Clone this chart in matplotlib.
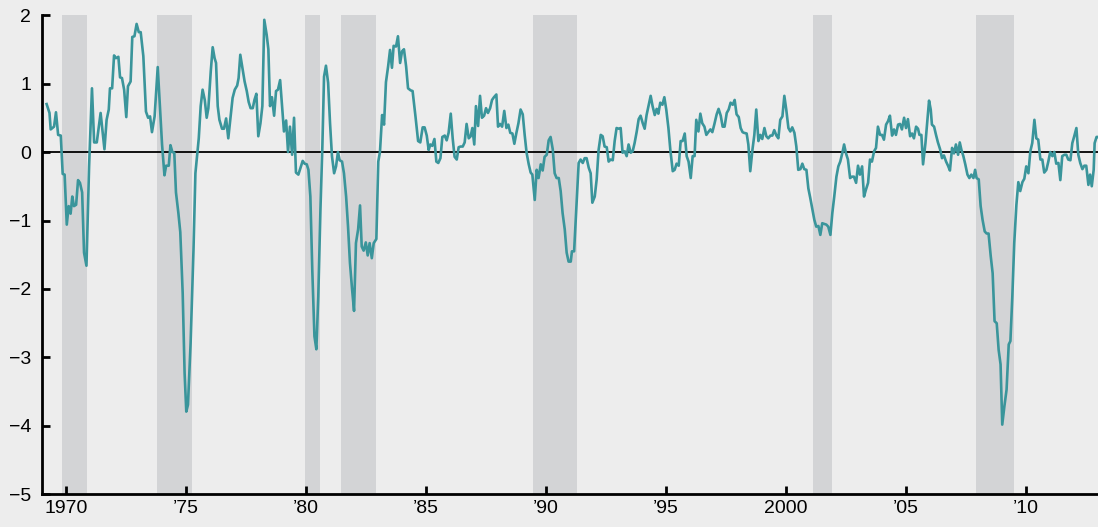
import matplotlib
matplotlib.use('Agg')
from matplotlib import pyplot as plt

# index values (decimal year, value)
years = [
    1969.19, 1969.31, 1969.36, 1969.50, 1969.58, 1969.67, 1969.78, 1969.86, 1969.94, 1970.03,
    1970.11, 1970.19, 1970.26, 1970.33, 1970.42, 1970.50, 1970.58, 1970.67, 1970.75, 1970.85,
    1970.96, 1971.08, 1971.17, 1971.28, 1971.44, 1971.60, 1971.69, 1971.78, 1971.83, 1971.92,
    1972.00, 1972.08, 1972.18, 1972.25, 1972.33, 1972.42, 1972.51, 1972.58, 1972.69, 1972.76,
    1972.85, 1972.94, 1973.03, 1973.11, 1973.22, 1973.33, 1973.42, 1973.50, 1973.58, 1973.69,
    1973.82, 1973.92, 1974.00, 1974.10, 1974.17, 1974.28, 1974.35, 1974.43, 1974.51, 1974.58,
    1974.68, 1974.76, 1974.86, 1974.94, 1975.01, 1975.08, 1975.19, 1975.31, 1975.39, 1975.53,
    1975.61, 1975.69, 1975.78, 1975.86, 1975.93, 1976.03, 1976.11, 1976.19, 1976.25,
    1976.32, 1976.39, 1976.50, 1976.58, 1976.67, 1976.76, 1976.86, 1976.94, 1977.03, 1977.13,
    1977.19, 1977.26, 1977.36, 1977.44, 1977.53, 1977.61, 1977.69, 1977.78, 1977.85, 1977.93,
    1978.01, 1978.10, 1978.18, 1978.26, 1978.36, 1978.43, 1978.50, 1978.58, 1978.67, 1978.75,
    1978.83, 1978.92, 1979.00, 1979.08, 1979.17, 1979.25, 1979.33, 1979.42, 1979.50, 1979.58,
    1979.68, 1979.78, 1979.86, 1979.94, 1980.03, 1980.10, 1980.18, 1980.26, 1980.35, 1980.43,
    1980.51, 1980.60, 1980.68, 1980.75, 1980.83, 1980.92, 1981.00, 1981.08, 1981.17, 1981.25,
    1981.33, 1981.40, 1981.50, 1981.58, 1981.67, 1981.75, 1981.83, 1981.92, 1982.00, 1982.08,
    1982.17, 1982.25, 1982.32, 1982.40, 1982.49, 1982.57, 1982.65, 1982.74, 1982.82, 1982.93,
    1983.01, 1983.08, 1983.17, 1983.25, 1983.33, 1983.42, 1983.50,
    1983.58, 1983.65, 1983.75, 1983.83, 1983.92, 1984.00, 1984.08, 1984.17, 1984.25, 1984.36,
    1984.44, 1984.56, 1984.67, 1984.76, 1984.86, 1984.94, 1985.03, 1985.11, 1985.18, 1985.26,
    1985.35, 1985.43, 1985.51, 1985.60, 1985.68, 1985.78, 1985.86, 1985.94, 1986.03, 1986.11,
    1986.19, 1986.28, 1986.36, 1986.44, 1986.53, 1986.61, 1986.69, 1986.78, 1986.86, 1986.93,
    1987.01, 1987.08, 1987.17, 1987.25, 1987.33, 1987.42, 1987.50, 1987.58, 1987.67, 1987.75,
    1987.83, 1987.93, 1988.00, 1988.08, 1988.17, 1988.26, 1988.35, 1988.43, 1988.51, 1988.60,
    1988.68, 1988.76, 1988.85, 1988.94, 1989.03, 1989.11, 1989.19, 1989.28, 1989.36, 1989.43,
    1989.53, 1989.61, 1989.69, 1989.78, 1989.86, 1989.94, 1990.03, 1990.11, 1990.19, 1990.28,
    1990.36, 1990.44, 1990.53, 1990.61, 1990.69, 1990.78, 1990.86, 1990.94, 1991.03,
    1991.08, 1991.17, 1991.26, 1991.36, 1991.44, 1991.53, 1991.61, 1991.69, 1991.78, 1991.86,
    1991.93, 1992.03, 1992.11, 1992.19, 1992.28, 1992.36, 1992.44, 1992.53, 1992.61, 1992.69,
    1992.78, 1992.86, 1992.94, 1993.03, 1993.11, 1993.19, 1993.28, 1993.36, 1993.44, 1993.53,
    1993.61, 1993.69, 1993.78, 1993.86, 1993.94, 1994.03, 1994.11, 1994.19, 1994.28, 1994.36,
    1994.44, 1994.53, 1994.61, 1994.68, 1994.76, 1994.85, 1994.93, 1995.01, 1995.10, 1995.18,
    1995.28, 1995.36, 1995.44, 1995.53, 1995.61, 1995.69, 1995.78, 1995.86, 1995.94, 1996.03,
    1996.11, 1996.19, 1996.26, 1996.35, 1996.43, 1996.51, 1996.60, 1996.68, 1996.76, 1996.85,
    1996.93, 1997.01, 1997.11, 1997.19, 1997.28, 1997.36, 1997.44, 1997.53, 1997.61, 1997.69,
    1997.78, 1997.86, 1997.94, 1998.03, 1998.11, 1998.19,
    1998.25, 1998.36, 1998.43, 1998.51, 1998.60, 1998.68, 1998.76, 1998.85, 1998.93, 1999.01,
    1999.10, 1999.18, 1999.26, 1999.35, 1999.43, 1999.51, 1999.60, 1999.68, 1999.76, 1999.85,
    1999.93, 2000.01, 2000.10, 2000.18, 2000.26, 2000.35, 2000.43, 2000.51, 2000.60, 2000.68,
    2000.76, 2000.85, 2000.93, 2001.01, 2001.10, 2001.18, 2001.26, 2001.35, 2001.43, 2001.51,
    2001.60, 2001.68, 2001.76, 2001.85, 2001.93, 2002.01, 2002.10, 2002.18, 2002.26, 2002.35,
    2002.42, 2002.50, 2002.58, 2002.67, 2002.75, 2002.83, 2002.92, 2003.00, 2003.08, 2003.17,
    2003.25, 2003.33, 2003.42, 2003.50, 2003.58, 2003.67, 2003.75, 2003.83, 2003.92, 2004.00,
    2004.08, 2004.17, 2004.25, 2004.33, 2004.42, 2004.50, 2004.58, 2004.67, 2004.75, 2004.83,
    2004.92, 2005.00, 2005.08, 2005.17, 2005.25, 2005.33, 2005.42,
    2005.50, 2005.56, 2005.64, 2005.71, 2005.81, 2005.88, 2005.96, 2006.03, 2006.08, 2006.17,
    2006.25, 2006.33, 2006.42, 2006.50, 2006.58, 2006.67, 2006.75, 2006.83, 2006.92, 2007.00,
    2007.08, 2007.17, 2007.24, 2007.31, 2007.39, 2007.47, 2007.56, 2007.64, 2007.72, 2007.81,
    2007.88, 2007.94, 2008.03, 2008.11, 2008.19, 2008.28, 2008.36, 2008.44, 2008.53, 2008.61,
    2008.69, 2008.78, 2008.86, 2008.94, 2009.01, 2009.10, 2009.19, 2009.28, 2009.35, 2009.43,
    2009.51, 2009.60, 2009.68, 2009.76, 2009.85, 2009.93, 2010.01, 2010.10, 2010.18, 2010.26,
    2010.35, 2010.43, 2010.51, 2010.60, 2010.68, 2010.76, 2010.85, 2010.93, 2011.01, 2011.10,
    2011.18, 2011.26, 2011.35, 2011.43, 2011.51, 2011.60, 2011.68, 2011.76, 2011.85, 2011.93,
    2012.01, 2012.10, 2012.18, 2012.26, 2012.35, 2012.43, 2012.51, 2012.60, 2012.67, 2012.74,
    2012.82, 2012.86, 2012.94, 2013.00,
]
cfnai = [
    0.70, 0.57, 0.33, 0.37, 0.58, 0.25, 0.24, -0.32, -0.33, -1.06,
    -0.79, -0.90, -0.65, -0.79, -0.77, -0.41, -0.45, -0.59, -1.47, -1.66,
    -0.21, 0.93, 0.14, 0.14, 0.57, 0.04, 0.47, 0.62, 0.93, 0.93,
    1.41, 1.37, 1.39, 1.09, 1.08, 0.91, 0.51, 0.96, 1.03, 1.68,
    1.69, 1.87, 1.75, 1.75, 1.40, 0.59, 0.50, 0.52, 0.29, 0.52,
    1.24, 0.62, 0.11, -0.34, -0.20, -0.20, 0.10, 0.00, -0.01, -0.59,
    -0.89, -1.17, -2.06, -3.23, -3.79, -3.69, -2.79, -1.43, -0.31, 0.20,
    0.67, 0.91, 0.76, 0.50, 0.64, 1.18, 1.53, 1.37, 1.30,
    0.67, 0.47, 0.34, 0.34, 0.49, 0.20, 0.52, 0.79, 0.91, 0.97,
    1.08, 1.42, 1.20, 1.03, 0.89, 0.73, 0.64, 0.64, 0.76, 0.85,
    0.23, 0.42, 0.67, 1.93, 1.71, 1.50, 0.67, 0.80, 0.53, 0.89,
    0.91, 1.05, 0.67, 0.30, 0.46, 0.00, 0.37, -0.04, 0.50, -0.30,
    -0.33, -0.22, -0.13, -0.17, -0.18, -0.26, -0.65, -1.72, -2.69, -2.88,
    -2.11, -0.84, 0.08, 1.10, 1.26, 1.01, 0.42, -0.06, -0.31, -0.21,
    0.00, -0.12, -0.14, -0.31, -0.65, -1.09, -1.62, -2.01, -2.32, -1.33,
    -1.13, -0.78, -1.38, -1.44, -1.32, -1.51, -1.33, -1.55, -1.33, -1.27,
    -0.14, 0.00, 0.54, 0.40, 1.02, 1.25, 1.49,
    1.23, 1.55, 1.54, 1.69, 1.30, 1.47, 1.50, 1.25, 0.93, 0.90,
    0.89, 0.52, 0.16, 0.14, 0.36, 0.36, 0.24, 0.03, 0.11, 0.09,
    0.19, -0.14, -0.16, -0.09, 0.22, 0.24, 0.17, 0.28, 0.56, 0.20,
    -0.07, -0.11, 0.07, 0.08, 0.08, 0.14, 0.41, 0.20, 0.23, 0.35,
    0.11, 0.67, 0.38, 0.82, 0.50, 0.53, 0.64, 0.57, 0.64, 0.76,
    0.80, 0.84, 0.37, 0.41, 0.37, 0.60, 0.35, 0.40, 0.28, 0.27,
    0.12, 0.27, 0.42, 0.62, 0.55, 0.25, -0.01, -0.18, -0.30, -0.33,
    -0.70, -0.26, -0.38, -0.18, -0.27, -0.07, -0.04, 0.17, 0.22, 0.04,
    -0.31, -0.38, -0.38, -0.57, -0.89, -1.13, -1.47, -1.60, -1.60,
    -1.45, -1.45, -0.84, -0.16, -0.11, -0.16, -0.09, -0.09, -0.23, -0.31,
    -0.74, -0.65, -0.40, 0.03, 0.25, 0.23, 0.08, 0.07, -0.14, -0.11,
    -0.12, 0.16, 0.35, 0.34, 0.35, -0.01, 0.01, -0.06, 0.11, -0.01,
    0.01, 0.13, 0.30, 0.48, 0.53, 0.42, 0.34, 0.54, 0.69, 0.82,
    0.67, 0.54, 0.63, 0.56, 0.72, 0.69, 0.80, 0.62, 0.35, 0.03,
    -0.28, -0.26, -0.17, -0.20, 0.16, 0.16, 0.27, -0.06, -0.14, -0.38,
    -0.06, -0.06, 0.47, 0.30, 0.56, 0.42, 0.37, 0.25, 0.29, 0.33,
    0.29, 0.40, 0.55, 0.63, 0.53, 0.37, 0.37, 0.57, 0.62, 0.72,
    0.69, 0.76, 0.55, 0.51, 0.35, 0.29,
    0.28, 0.27, 0.11, -0.28, 0.03, 0.25, 0.62, 0.16, 0.25, 0.19,
    0.35, 0.23, 0.20, 0.24, 0.24, 0.32, 0.24, 0.20, 0.47, 0.52,
    0.82, 0.62, 0.35, 0.30, 0.36, 0.28, 0.08, -0.26, -0.25, -0.17,
    -0.25, -0.26, -0.53, -0.67, -0.84, -0.99, -1.09, -1.08, -1.21, -1.04,
    -1.05, -1.06, -1.09, -1.21, -0.89, -0.65, -0.36, -0.21, -0.14, -0.01,
    0.11, -0.02, -0.11, -0.38, -0.36, -0.36, -0.45, -0.20, -0.33, -0.21,
    -0.65, -0.55, -0.45, -0.11, -0.14, 0.01, 0.06, 0.37, 0.25, 0.25,
    0.18, 0.40, 0.45, 0.53, 0.24, 0.33, 0.25, 0.40, 0.41, 0.33,
    0.50, 0.35, 0.48, 0.23, 0.27, 0.20, 0.37,
    0.34, 0.25, 0.25, -0.18, 0.13, 0.42, 0.75, 0.62, 0.40, 0.37,
    0.25, 0.14, 0.04, -0.09, -0.05, -0.14, -0.20, -0.27, 0.06, -0.02,
    0.11, -0.04, 0.14, 0.03, -0.06, -0.18, -0.33, -0.38, -0.33, -0.38,
    -0.26, -0.38, -0.40, -0.79, -0.99, -1.16, -1.19, -1.19, -1.52, -1.77,
    -2.47, -2.50, -2.89, -3.10, -3.98, -3.71, -3.47, -2.81, -2.76, -2.11,
    -1.33, -0.77, -0.44, -0.57, -0.44, -0.39, -0.21, -0.31, 0.01, 0.13,
    0.47, 0.20, 0.18, -0.11, -0.11, -0.30, -0.26, -0.14, 0.00, -0.06,
    0.00, -0.17, -0.16, -0.41, -0.06, -0.04, -0.04, -0.11, -0.12, 0.13,
    0.23, 0.35, -0.04, -0.16, -0.25, -0.20, -0.20, -0.48, -0.33, -0.50,
    -0.26, 0.13, 0.22, 0.22,
]

# shaded recession periods (start, end)
rec_start = [1969.83, 1973.78, 1979.96, 1981.46, 1989.47, 2001.12, 2007.92]
rec_end = [1970.88, 1975.25, 1980.58, 1982.90, 1991.28, 2001.92, 2009.51]

xtick_pos = [1970, 1975, 1980, 1985, 1990, 1995, 2000, 2005, 2010]
xtick_lab = ['1970', '\u201975', '\u201980', '\u201985', '\u201990', '\u201995', '2000', '\u201905', '\u201910']
ytick_pos = [2, 1, 0, -1, -2, -3, -4, -5]

bg = '#EDEDED'
plt.rcParams['font.family'] = ['Liberation Sans', 'DejaVu Sans']

fig = plt.figure(figsize=(10.98, 5.27), dpi=100, facecolor=bg)
ax = fig.add_axes([0.0383, 0.0617, 0.9617, 0.9098])
ax.set_facecolor(bg)

for s, e in zip(rec_start, rec_end):
	ax.axvspan(s, e, color='#D3D4D6', lw=0, zorder=1)

ax.axhline(0, color='black', lw=1.3, zorder=2)
ax.plot(years, cfnai, color='#3A959B', lw=1.9, zorder=3)

ax.set_xlim(1969.0, 2013.0)
ax.set_ylim(-5, 2)
ax.set_xticks(xtick_pos)
ax.set_xticklabels(xtick_lab)
ax.set_yticks(ytick_pos)

for sp in ['top', 'right']:
	ax.spines[sp].set_visible(False)
for sp in ['left', 'bottom']:
	ax.spines[sp].set_linewidth(2)
	ax.spines[sp].set_color('black')

ax.tick_params(axis='both', direction='in', length=6, width=2, labelsize=14, colors='black')
ax.tick_params(axis='x', pad=4)
ax.tick_params(axis='y', pad=8)

fig.savefig('out.png', dpi=100, facecolor=bg)
